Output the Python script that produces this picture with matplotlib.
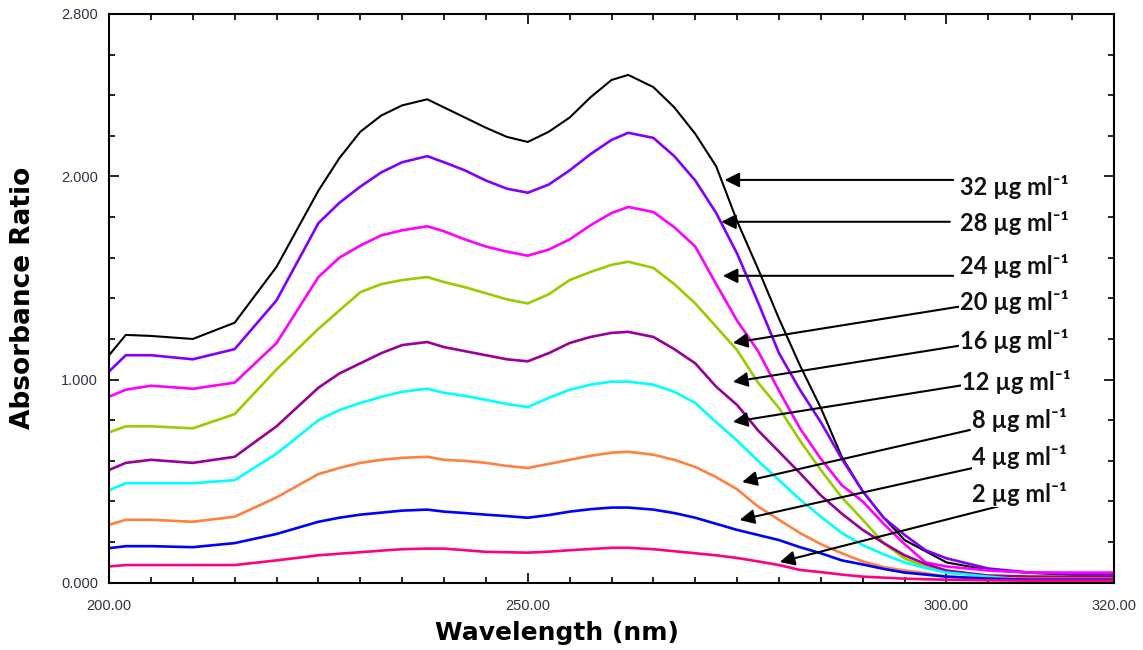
import matplotlib
matplotlib.use("Agg")
import matplotlib.pyplot as plt
from matplotlib.ticker import MultipleLocator, FixedLocator, FormatStrFormatter

# wavelength points (nm)
wl = [200, 202, 205, 210, 215, 220, 225,
      227.5, 230, 232.5, 235, 238, 240,
      242.5, 245, 247.5, 250, 252.5, 255, 257.5, 260, 262,
      265, 267.5, 270, 272.5, 275, 277.5, 280, 282.5, 285, 287.5, 290, 292.5, 295, 297.5, 300,
      305, 310, 315, 320]

# absorbance for each concentration (same grouping as wl)
a32 = [1.12, 1.22, 1.215, 1.20, 1.28, 1.555, 1.93,
       2.09, 2.22, 2.30, 2.35, 2.38, 2.34,
       2.29, 2.24, 2.195, 2.17, 2.22, 2.29, 2.39, 2.475, 2.50,
       2.44, 2.34, 2.21, 2.05, 1.78, 1.545, 1.30, 1.07, 0.86, 0.62, 0.45, 0.32, 0.21, 0.155, 0.10,
       0.063, 0.048, 0.04, 0.04]
a28 = [1.04, 1.12, 1.12, 1.10, 1.15, 1.39, 1.77,
       1.87, 1.95, 2.02, 2.07, 2.10, 2.07,
       2.03, 1.98, 1.94, 1.92, 1.96, 2.03, 2.11, 2.18, 2.215,
       2.19, 2.10, 1.98, 1.82, 1.62, 1.38, 1.13, 0.95, 0.79, 0.61, 0.45, 0.32, 0.235, 0.16, 0.12,
       0.07, 0.05, 0.045, 0.045]
a24 = [0.916, 0.95, 0.97, 0.955, 0.985, 1.18, 1.505,
       1.60, 1.66, 1.71, 1.735, 1.755, 1.73,
       1.69, 1.655, 1.63, 1.61, 1.64, 1.69, 1.76, 1.82, 1.85,
       1.825, 1.75, 1.655, 1.47, 1.29, 1.14, 0.945, 0.76, 0.61, 0.48, 0.40, 0.29, 0.19, 0.10, 0.08,
       0.06, 0.05, 0.05, 0.05]
a20 = [0.74, 0.77, 0.77, 0.76, 0.83, 1.05, 1.25,
       1.34, 1.43, 1.47, 1.49, 1.505, 1.48,
       1.455, 1.425, 1.395, 1.375, 1.42, 1.49, 1.53, 1.565, 1.58,
       1.55, 1.47, 1.375, 1.26, 1.145, 0.985, 0.86, 0.70, 0.555, 0.42, 0.31, 0.195, 0.12, 0.077, 0.05,
       0.035, 0.03, 0.025, 0.02]
a16 = [0.555, 0.59, 0.605, 0.59, 0.62, 0.77, 0.96,
       1.03, 1.08, 1.13, 1.17, 1.185, 1.16,
       1.14, 1.12, 1.10, 1.09, 1.13, 1.18, 1.21, 1.23, 1.235,
       1.21, 1.15, 1.08, 0.965, 0.875, 0.75, 0.645, 0.54, 0.43, 0.34, 0.26, 0.195, 0.135, 0.092, 0.06,
       0.035, 0.03, 0.03, 0.03]
a12 = [0.455, 0.49, 0.49, 0.49, 0.505, 0.635, 0.80,
       0.85, 0.885, 0.915, 0.94, 0.955, 0.935,
       0.92, 0.90, 0.88, 0.865, 0.91, 0.95, 0.975, 0.99, 0.99,
       0.975, 0.94, 0.885, 0.79, 0.70, 0.60, 0.505, 0.41, 0.325, 0.245, 0.185, 0.14, 0.10, 0.072, 0.05,
       0.03, 0.013, 0.01, 0.01]
a8 = [0.285, 0.31, 0.31, 0.30, 0.325, 0.42, 0.535,
      0.565, 0.59, 0.605, 0.615, 0.62, 0.605,
      0.60, 0.59, 0.575, 0.565, 0.585, 0.605, 0.625, 0.64, 0.645,
      0.63, 0.605, 0.57, 0.52, 0.46, 0.375, 0.31, 0.245, 0.19, 0.145, 0.105, 0.077, 0.06, 0.047, 0.03,
      0.02, 0.02, 0.02, 0.02]
a4 = [0.17, 0.18, 0.18, 0.175, 0.195, 0.24, 0.30,
      0.32, 0.335, 0.345, 0.355, 0.36, 0.35,
      0.343, 0.335, 0.328, 0.32, 0.333, 0.35, 0.362, 0.37, 0.37,
      0.36, 0.343, 0.32, 0.29, 0.26, 0.235, 0.21, 0.175, 0.145, 0.11, 0.09, 0.068, 0.05, 0.04, 0.03,
      0.02, 0.015, 0.015, 0.015]
a2 = [0.08, 0.087, 0.087, 0.087, 0.087, 0.11, 0.135,
      0.143, 0.15, 0.158, 0.165, 0.168, 0.168,
      0.16, 0.152, 0.15, 0.148, 0.153, 0.16, 0.166, 0.172, 0.172,
      0.165, 0.155, 0.145, 0.135, 0.122, 0.105, 0.087, 0.063, 0.052, 0.04, 0.03, 0.025, 0.02, 0.017, 0.015,
      0.012, 0.01, 0.01, 0.01]

conc = ["32", "28", "24", "20", "16", "12", "8", "4", "2"]
series = [a32, a28, a24, a20, a16, a12, a8, a4, a2]
colors = ["#000000", "#8000FF", "#FF00FF", "#99CC00", "#990099",
          "#00FFFF", "#FF8040", "#0000FF", "#FF0080"]

# label text position (left, centre) and arrow tail / head, in data units
label_pos = [(301.6, 1.95), (301.6, 1.77), (301.6, 1.56), (301.6, 1.38), (301.6, 1.19),
             (301.8, 0.99), (303.1, 0.80), (303.1, 0.62), (303.1, 0.435)]
arrow_tail = [(300.8, 1.983), (300.4, 1.777), (300.8, 1.511), (303.6, 1.373), (302.0, 1.170),
              (302.0, 0.973), (302.8, 0.752), (304.8, 0.580), (307.8, 0.393)]
arrow_head = [(273.5, 1.983), (273.1, 1.777), (273.3, 1.511), (274.5, 1.181), (274.5, 0.989),
              (274.5, 0.792), (275.6, 0.496), (275.3, 0.309), (280.1, 0.102)]

fig = plt.figure(figsize=(11.43, 6.5), dpi=100)
ax = fig.add_axes([0.0954, 0.1035, 0.8792, 0.875])

for vals, c in zip(series, colors):
    lw = 1.5 if c == "#000000" else 1.9
    ax.plot(wl, vals, color=c, lw=lw)

for i in range(len(conc)):
    ax.annotate("", xy=arrow_head[i], xytext=arrow_tail[i],
                arrowprops=dict(arrowstyle="-|>", color="black", lw=1.5,
                                mutation_scale=22, shrinkA=0, shrinkB=0))
    ax.text(label_pos[i][0], label_pos[i][1], conc[i] + " \u00b5g ml\u207b\u00b9",
            ha="left", va="center", fontsize=17, fontweight="bold",
            family=["Lato", "DejaVu Sans"], color="#111111",
            bbox=dict(facecolor="white", edgecolor="none", pad=0.5))

ax.set_xlim(200, 320)
ax.set_ylim(0, 2.8)
ax.xaxis.set_major_locator(FixedLocator([200, 250, 300, 320]))
ax.xaxis.set_minor_locator(MultipleLocator(5))
ax.yaxis.set_major_locator(FixedLocator([0, 1, 2, 2.8]))
ax.yaxis.set_minor_locator(MultipleLocator(0.2))
ax.xaxis.set_major_formatter(FormatStrFormatter("%.2f"))
ax.yaxis.set_major_formatter(FormatStrFormatter("%.3f"))

ax.tick_params(which="both", direction="in", top=True, right=True,
               labelsize=10.5, labelcolor="#333344", width=1.2)
ax.tick_params(which="major", length=7)
ax.tick_params(which="minor", length=4)
ax.tick_params(axis="x", which="major", pad=12)
ax.tick_params(axis="y", which="major", pad=8)
for tl in ax.get_xticklabels() + ax.get_yticklabels():
    tl.set_family("Liberation Sans")
for s in ax.spines.values():
    s.set_linewidth(1.5)

ax.set_xlabel("Wavelength (nm)", fontsize=18, fontweight="bold", labelpad=4)
ax.xaxis.set_label_coords(0.446, -0.068)
ax.set_ylabel("Absorbance Ratio", fontsize=19, fontweight="bold", labelpad=18)

fig.savefig("out.png", dpi=100)
